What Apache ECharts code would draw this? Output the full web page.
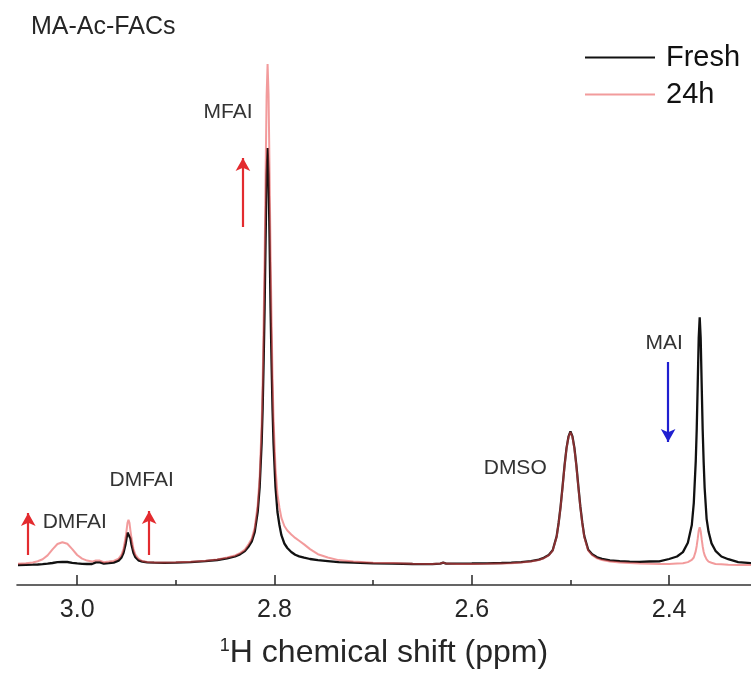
<!DOCTYPE html>
<html>
<head>
<meta charset="utf-8">
<script src="https://cdn.jsdelivr.net/npm/echarts@6/dist/echarts.min.js"></script>
<style>
  html, body { margin: 0; padding: 0; background: #ffffff; }
  #chart { width: 751px; height: 679px; }
</style>
</head>
<body>
<div id="chart"></div>
<script>
// 1H NMR spectra, chemical shift in ppm (descending)
const shiftPpm = [
  3.060, 3.052, 3.045, 3.040, 3.035, 3.030, 3.025, 3.020, 3.015, 3.010,
  3.005, 3.000, 2.995, 2.990, 2.985, 2.981, 2.979, 2.977, 2.973, 2.968,
  2.963, 2.958, 2.955, 2.953, 2.951, 2.950, 2.949, 2.948, 2.947, 2.946,
  2.945, 2.943, 2.941, 2.938, 2.934, 2.929, 2.922, 2.912, 2.900, 2.885,
  2.870, 2.858, 2.848, 2.840, 2.835, 2.830, 2.826, 2.823, 2.820, 2.817,
  2.815, 2.813, 2.812, 2.811, 2.810, 2.809, 2.808, 2.807, 2.806, 2.805,
  2.804, 2.803, 2.802, 2.801, 2.800, 2.799, 2.797, 2.795, 2.793, 2.790,
  2.787, 2.783, 2.779, 2.775, 2.770, 2.764, 2.756, 2.746, 2.735, 2.720,
  2.700, 2.680, 2.660, 2.640, 2.632, 2.629, 2.626, 2.615, 2.600, 2.585,
  2.570, 2.560, 2.550, 2.540, 2.532, 2.527, 2.522, 2.518, 2.514, 2.512,
  2.510, 2.508, 2.506, 2.504, 2.502, 2.500, 2.498, 2.496, 2.494, 2.492,
  2.490, 2.488, 2.486, 2.482, 2.478, 2.473, 2.468, 2.460, 2.450, 2.440,
  2.430, 2.420, 2.410, 2.400, 2.392, 2.386, 2.381, 2.377, 2.375, 2.373,
  2.372, 2.371, 2.370, 2.369, 2.368, 2.367, 2.366, 2.365, 2.364, 2.362,
  2.360, 2.357, 2.353, 2.347, 2.340, 2.330, 2.317
];

// Intensity (a.u.) of the fresh solution
const freshIntensity = [
  21.0, 21.1, 21.3, 21.5, 21.8, 22.3, 23.0, 23.9, 24.2, 24.0,
  23.2, 22.6, 22.2, 22.0, 22.0, 23.6, 24.6, 23.6, 22.3, 22.8,
  23.4, 25.4, 28.6, 33.2, 41.4, 47.4, 53.4, 55.4, 53.5, 47.5,
  41.5, 33.3, 28.7, 25.7, 24.4, 23.7, 23.3, 23.2, 23.4, 23.8,
  24.9, 26.0, 27.7, 29.5, 31.6, 34.9, 39.8, 44.7, 54.2, 74.2,
  99.2, 143.2, 177.2, 224.2, 278.0, 347.0, 411.0, 438.0, 411.0, 347.0,
  278.0, 224.0, 177.0, 143.0, 120.6, 99.0, 74.0, 61.0, 50.8, 42.5,
  38.0, 34.0, 31.2, 29.6, 28.3, 27.0, 25.8, 24.9, 23.9, 23.3,
  22.6, 22.4, 22.0, 21.9, 22.4, 23.3, 22.3, 22.4, 22.5, 22.7,
  23.0, 23.3, 23.9, 24.8, 26.4, 28.2, 31.1, 35.8, 49.6, 63.0,
  79.3, 99.3, 120.3, 137.9, 149.3, 154.5, 149.6, 138.1, 120.6, 99.6,
  79.6, 63.3, 49.9, 36.2, 31.8, 28.7, 27.1, 25.6, 24.9, 24.3,
  24.2, 24.5, 24.7, 27.0, 29.5, 33.9, 43.3, 61.0, 82.8, 124.9,
  157.3, 202.3, 248.3, 268.7, 247.8, 201.8, 156.8, 124.3, 98.2, 67.2,
  54.2, 42.6, 35.2, 29.5, 26.8, 23.9, 22.9
];

// Intensity (a.u.) after 24 h
const aged24hIntensity = [
  22.2, 22.7, 23.5, 24.8, 26.8, 30.6, 36.6, 42.0, 43.8, 42.2,
  36.9, 31.0, 27.4, 25.4, 24.4, 25.6, 26.5, 25.4, 23.8, 24.4,
  25.1, 27.4, 31.5, 37.2, 48.2, 55.2, 63.2, 66.2, 63.2, 55.2,
  48.2, 37.2, 31.4, 27.5, 25.0, 24.1, 23.6, 23.6, 23.8, 24.3,
  25.3, 26.5, 28.5, 30.5, 32.9, 36.4, 42.2, 47.6, 58.6, 81.2,
  109.5, 161.8, 203.3, 262.7, 328.0, 411.8, 489.4, 522.0, 490.6, 414.2,
  331.8, 267.4, 208.9, 168.5, 142.6, 118.2, 91.9, 78.5, 68.1, 60.0,
  55.5, 51.5, 48.1, 45.3, 41.6, 36.9, 31.8, 28.5, 25.9, 24.4,
  23.3, 22.9, 22.3, 22.0, 22.5, 23.4, 22.4, 22.1, 22.1, 22.3,
  22.6, 22.8, 23.5, 24.4, 26.0, 27.8, 30.7, 35.4, 49.2, 62.6,
  78.9, 98.9, 119.9, 137.5, 148.9, 153.8, 148.8, 137.3, 119.8, 98.8,
  78.8, 62.5, 49.0, 35.3, 30.8, 27.6, 25.9, 24.4, 23.6, 23.0,
  22.5, 22.3, 22.1, 22.0, 22.4, 22.7, 23.9, 26.1, 28.5, 34.9,
  40.3, 47.3, 55.3, 58.7, 54.8, 46.8, 39.8, 34.3, 30.7, 26.6,
  24.4, 23.2, 22.0, 21.7, 21.3, 21.1, 20.9
];

const seriesNames = ['Fresh', '24h'];
const majorTickValues = [3.0, 2.8, 2.6, 2.4];
const minorTickValues = [2.9, 2.7, 2.5];

const FONT = '"Liberation Sans", Arial, Helvetica, sans-serif';
const TEXT_COLOR = '#262626';
const RED = '#e32b2f';
const BLUE = '#1f1fd0';

function pairs(xs, ys) {
  return xs.map((x, i) => [x, ys[i]]);
}

// Peak assignments, placed in data coordinates (ppm, intensity)
const peakNotes = [
  { name: 'MFAI',  coord: [2.847, 474] },
  { name: 'DMFAI', coord: [2.9346, 106] },
  { name: 'DMFAI', coord: [3.0025, 64] },
  { name: 'DMSO',  coord: [2.556, 118] },
  { name: 'MAI',   coord: [2.4049, 243] }
];

// Trend arrows: red = grows after 24 h, blue = decreases
function arrow(ppm, from, to, color) {
  return [
    { coord: [ppm, from], lineStyle: { color: color, width: 2.2, type: 'solid' } },
    { coord: [ppm, to] }
  ];
}
const trendArrows = [
  arrow(3.0496, 31, 73, RED),
  arrow(2.927, 31, 75, RED),
  arrow(2.832, 359, 428, RED),
  arrow(2.401, 224, 144, BLUE)
];

const xRange = { min: 2.317, max: 3.061 };

const option = {
  animation: false,
  backgroundColor: '#ffffff',
  title: {
    text: 'MA-Ac-FACs',
    left: 26,
    top: 10,
    textStyle: { fontFamily: FONT, fontSize: 25, fontWeight: 'normal', color: TEXT_COLOR }
  },
  legend: {
    data: seriesNames,
    orient: 'vertical',
    left: 579,
    top: 38,
    itemWidth: 70,
    itemHeight: 14,
    itemGap: 8,
    itemStyle: { opacity: 0 },
    textStyle: { fontFamily: FONT, fontSize: 29, color: '#111', padding: [0, 0, 0, 6] }
  },
  grid: { left: 17, right: 0, top: 55, bottom: 94, containLabel: false },
  xAxis: [
    {
      type: 'value',
      inverse: true,
      min: xRange.min,
      max: xRange.max,
      position: 'bottom',
      splitLine: { show: false },
      axisLine: { show: true, onZero: false, lineStyle: { color: '#333', width: 1.6 } },
      axisTick: { show: true, inside: true, length: 10, customValues: majorTickValues,
                  lineStyle: { color: '#333', width: 1.6 } },
      axisLabel: {
        show: true, customValues: majorTickValues, margin: 13,
        formatter: v => v.toFixed(1),
        fontFamily: FONT, fontSize: 25, color: TEXT_COLOR
      },
      name: '{sup|1}H chemical shift (ppm)',
      nameLocation: 'middle',
      nameGap: 52,
      nameTextStyle: {
        fontFamily: FONT, fontSize: 32, color: TEXT_COLOR,
        rich: { sup: { fontFamily: FONT, fontSize: 18, color: TEXT_COLOR, padding: [0, 0, 14, 0] } }
      }
    },
    {
      type: 'value',
      inverse: true,
      min: xRange.min,
      max: xRange.max,
      position: 'bottom',
      offset: 0,
      splitLine: { show: false },
      axisLine: { show: false, onZero: false },
      axisTick: { show: true, inside: true, length: 5, customValues: minorTickValues,
                  lineStyle: { color: '#333', width: 1.6 } },
      axisLabel: { show: false }
    }
  ],
  yAxis: {
    type: 'value',
    min: 1,
    max: 531,
    show: false,
    splitLine: { show: false }
  },
  series: [
    {
      name: seriesNames[0],
      type: 'line',
      data: pairs(shiftPpm, freshIntensity),
      symbol: 'none',
      color: '#111111',
      lineStyle: { color: '#111111', width: 2.3 },
      z: 2,
      markPoint: {
        silent: true,
        symbol: 'circle',
        symbolSize: 1,
        itemStyle: { color: 'rgba(0,0,0,0)' },
        label: {
          show: true, position: 'inside', formatter: '{b}',
          fontFamily: FONT, fontSize: 21, color: '#333'
        },
        data: peakNotes.map(n => ({ name: n.name, coord: n.coord, value: 0 }))
      },
      markLine: {
        silent: true,
        symbol: ['none', 'arrow'],
        symbolSize: [11, 13],
        label: { show: false },
        emphasis: { disabled: true },
        data: trendArrows
      }
    },
    {
      name: seriesNames[1],
      type: 'line',
      data: pairs(shiftPpm, aged24hIntensity),
      symbol: 'none',
      color: '#ee6b6e',
      lineStyle: { color: '#e8484a', width: 2, opacity: 0.55 },
      z: 3
    }
  ]
};

const chart = echarts.init(document.getElementById('chart'), null, { renderer: 'canvas' });
chart.setOption(option);
</script>
</body>
</html>
